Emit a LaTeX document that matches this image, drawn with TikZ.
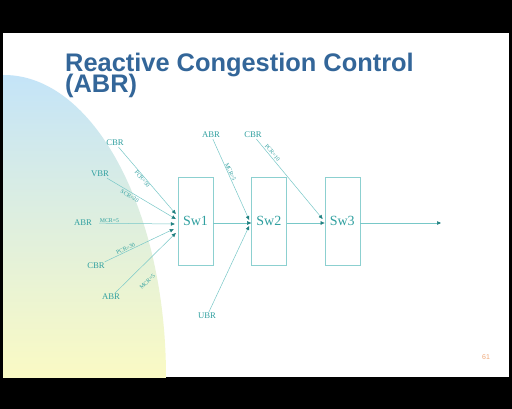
\documentclass[tikz,border=0pt]{standalone}
\usepackage{fontspec}
\setmainfont{Liberation Serif}
\newfontfamily\slidesans{Liberation Sans}
\usetikzlibrary{arrows.meta, positioning}
\definecolor{titleblue}{RGB}{51,102,153}
\definecolor{labteal}{RGB}{48,160,160}
\definecolor{lineteal}{RGB}{120,200,200}
\definecolor{tipteal}{RGB}{30,128,128}
\definecolor{boxteal}{RGB}{140,208,208}
\definecolor{blobblue}{RGB}{196,228,248}
\definecolor{blobyellow}{RGB}{250,250,196}
\definecolor{pagenum}{RGB}{240,168,120}

\begin{document}
\begin{tikzpicture}[x=1pt, y=-1pt,
    src/.style={font=\fontsize{8.7}{10}\selectfont, text=labteal, inner sep=1pt},
    swbox/.style={draw=boxteal, minimum width=35pt, minimum height=88pt, inner sep=0pt, font=\fontsize{14}{16}\selectfont, text=labteal},
    flow/.style={draw=lineteal, line width=0.5pt, -{Triangle[length=4pt, width=3.5pt, color=tipteal]}},
    rate/.style={font=\fontsize{5.8}{6}\selectfont, text=labteal, inner sep=0.5pt, sloped},
    slidetitle/.style={anchor=base west, inner sep=0pt, text=titleblue, font=\slidesans\bfseries\fontsize{25.4}{26}\selectfont}]
  \useasboundingbox (0,0) rectangle (512,409);
  \fill[black] (0,0) rectangle (512,409);
  \fill[white] (3,33) rectangle (509,377);
  \begin{scope}
    \clip (3,33) rectangle (509,377);
    \clip (4,377) ellipse [x radius=162pt, y radius=302pt];
    \shade[top color=blobblue, bottom color=blobyellow] (3,75) rectangle (170,377);
  \end{scope}
  \node[slidetitle] (titlea) at (65,72) {Reactive Congestion Control};
  \node[slidetitle] (titleb) at (65,93) {(ABR)};
  \node[font=\slidesans\fontsize{7}{8}\selectfont, text=pagenum] (pnum) at (486,357) {61};

  \node[swbox] (sw1) at (195.5,221) {Sw1};
  \node[swbox, right=38pt of sw1] (sw2) {Sw2};
  \node[swbox, right=38pt of sw2] (sw3) {Sw3};
  \coordinate (out) at (441,223);

  \node[src] (cbra) at (115,143) {CBR};
  \node[src] (vbr) at (100,174) {VBR};
  \node[src] (abra) at (83,223) {ABR};
  \node[src] (cbrb) at (96,266) {CBR};
  \node[src] (abrb) at (111,297) {ABR};
  \node[src] (abrc) at (211,135) {ABR};
  \node[src] (cbrc) at (253,135) {CBR};
  \node[src] (ubr) at (207,316) {UBR};

  \draw[flow] (cbra) -- ([xshift=-2pt,yshift=7pt]sw1.west) node[rate, pos=0.45, below] (ra) {PCR=50};
  \draw[flow] (vbr) -- ([xshift=-2pt,yshift=2pt]sw1.west) node[rate, pos=0.36, below=1pt] (rb) {SCR=20};
  \draw[flow, shorten <=6pt] (abra) -- ([xshift=-3pt,yshift=-3pt]sw1.west) node[rate, pos=0.2, above] (rc) {MCR=5};
  \draw[flow] (cbrb) -- ([xshift=-4pt,yshift=-8pt]sw1.west) node[rate, pos=0.32, above] (rd) {PCR=30};
  \draw[flow] (abrb) -- ([xshift=-2pt,yshift=-12pt]sw1.west) node[rate, pos=0.36, below=12pt] (re) {MCR=5};
  \draw[flow] (abrc) -- ([xshift=-2pt,yshift=1pt]sw2.west) node[rate, pos=0.42, above] (rf) {MCR=5};
  \draw[flow] (ubr) -- ([xshift=-2pt,yshift=-5pt]sw2.west);
  \draw[flow] (cbrc) -- ([xshift=-2pt,yshift=2pt]sw3.west) node[rate, pos=0.2, above=1pt] (rg) {PCR=10};

  \draw[flow] ([yshift=-2pt]sw1.east) -- ([yshift=-2pt]sw2.west);
  \draw[flow] ([yshift=-2pt]sw2.east) -- ([yshift=-2pt]sw3.west);
  \draw[flow] ([yshift=-2pt]sw3.east) -- (out);
\end{tikzpicture}
\end{document}
